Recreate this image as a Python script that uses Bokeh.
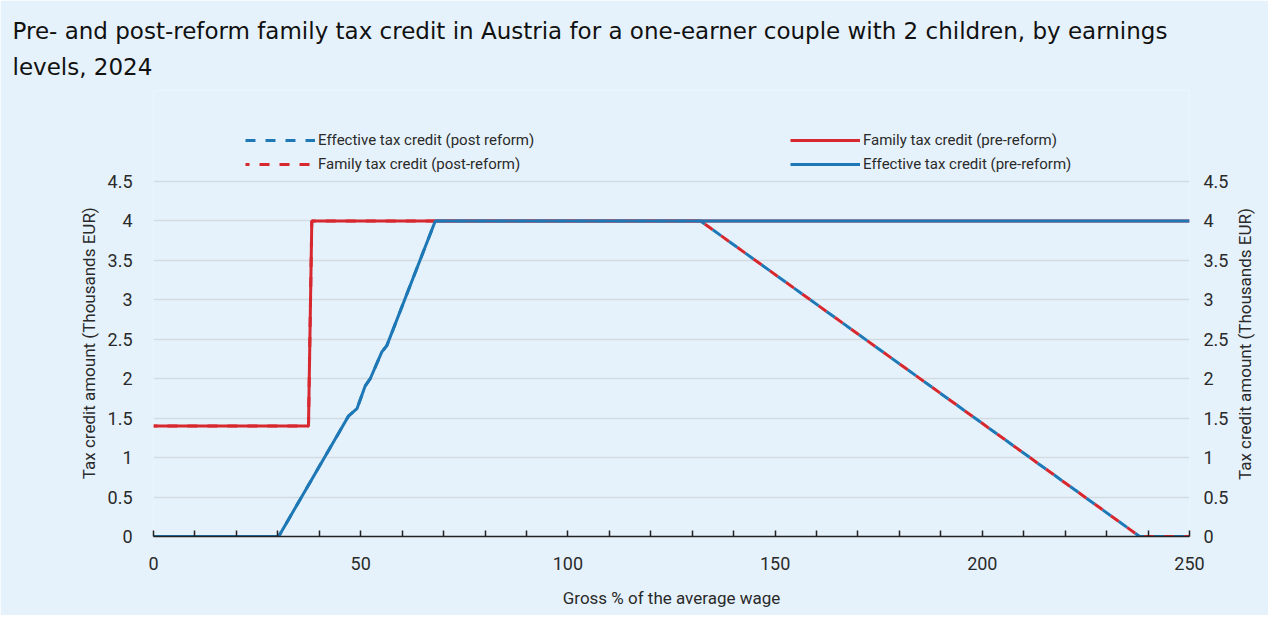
import math
from bokeh.plotting import figure
from bokeh.models import Range1d, LinearAxis, FixedTicker, Legend, LegendItem, Title
from bokeh.embed import file_html
from bokeh.resources import INLINE

title_line1 = "Pre- and post-reform family tax credit in Austria for a one-earner couple with 2 children, by earnings"
title_line2 = "levels, 2024"
x_label = "Gross % of the average wage"
y_label = "Tax credit amount (Thousands EUR)"

x_ticks = [0, 10, 20, 30, 40, 50, 60, 70, 80, 90, 100, 110, 120, 130, 140, 150,
           160, 170, 180, 190, 200, 210, 220, 230, 240, 250]
x_tick_labels = ["0", "", "", "", "", "50", "", "", "", "", "100", "", "", "", "", "150",
                 "", "", "", "", "200", "", "", "", "", "250"]
y_ticks = [0, 0.5, 1, 1.5, 2, 2.5, 3, 3.5, 4, 4.5]
y_tick_labels = ["0", "0.5", "1", "1.5", "2", "2.5", "3", "3.5", "4", "4.5"]

# Family tax credit (pre-reform)
fam_pre_x = [0, 37.4, 38.2, 250]
fam_pre_y = [1.4, 1.4, 4.0, 4.0]
# Effective tax credit (pre-reform)
eff_pre_x = [0, 30.2, 47.1, 49.1, 51.1, 52.3, 55.1, 56.3, 68.0, 250]
eff_pre_y = [0, 0, 1.53, 1.62, 1.91, 2.0, 2.34, 2.42, 4.0, 4.0]
# Family tax credit (post-reform)
fam_post_x = [0, 37.4, 38.2, 132, 238, 250]
fam_post_y = [1.4, 1.4, 4.0, 4.0, 0, 0]
# Effective tax credit (post reform)
eff_post_x = [0, 30.2, 47.1, 49.1, 51.1, 52.3, 55.1, 56.3, 68.0, 132, 238, 250]
eff_post_y = [0, 0, 1.53, 1.62, 1.91, 2.0, 2.34, 2.42, 4.0, 4.0, 0, 0]

BG = "#e6f2fb"
RED = "#d7282f"
BLUE = "#1f78b6"
TXT = "#2a2a2a"
FONT = "Roboto"
TITLE_FONT = "DejaVu Sans"

W, H = 1268, 615
BL, BR, BT, BB = 153, 78, 90, 79
Y_TOP_PX = 181          # screen row where 4.5 sits; space above the grid holds the legend
frame_h = H - BT - BB
px_per_unit = (H - BB - Y_TOP_PX) / 4.5
Y_END = frame_h / px_per_unit

p = figure(width=W, height=H, x_range=Range1d(0, 250), y_range=Range1d(0, Y_END),
           output_backend="svg", toolbar_location=None, title=None,
           min_border_left=BL, min_border_right=BR, min_border_top=BT, min_border_bottom=BB,
           background_fill_color=BG, border_fill_color=BG, outline_line_color=None)

# dash phase alignment: on the shared segment each red dash is followed by a blue one
fw, fh = W - BL - BR, frame_h
def path_len(xs, ys, stop):
    L = 0.0
    for i in range(1, len(xs)):
        if xs[i - 1] >= stop:
            break
        L += math.hypot((xs[i] - xs[i - 1]) * fw / 250, (ys[i] - ys[i - 1]) * fh / Y_END)
    return L
DASH_ON, DASH_OFF = 10, 10
period = DASH_ON + DASH_OFF
Lb = path_len(eff_post_x, eff_post_y, 132)
Lr = path_len(fam_post_x, fam_post_y, 132)
red_off = int(round((Lb - Lr + DASH_ON) % period))

r_fam_post = p.line(fam_post_x, fam_post_y, line_color=RED, line_width=3,
                    line_dash=f"{DASH_ON} {DASH_OFF}", line_dash_offset=red_off)
r_eff_post = p.line(eff_post_x, eff_post_y, line_color=BLUE, line_width=3,
                    line_dash=f"{DASH_ON} {DASH_OFF}", line_dash_offset=0)
r_fam_pre = p.line(fam_pre_x, fam_pre_y, line_color=RED, line_width=3)
r_eff_pre = p.line(eff_pre_x, eff_pre_y, line_color=BLUE, line_width=3)

# x axis
xa = p.xaxis[0]
xa.ticker = FixedTicker(ticks=x_ticks)
xa.major_label_overrides = {t: l for t, l in zip(x_ticks, x_tick_labels)}
xa.minor_tick_line_color = None
xa.major_tick_in = 6
xa.major_tick_out = 0
xa.major_tick_line_color = "#222222"
xa.major_tick_line_width = 1.5
xa.axis_line_color = "#222222"
xa.axis_line_width = 1.5
xa.major_label_standoff = 20
xa.axis_label = x_label
xa.axis_label_standoff = 15
xa.axis_label_text_font = FONT
xa.axis_label_text_font_size = "17px"
xa.axis_label_text_font_style = "normal"
xa.axis_label_text_color = TXT

# y axes (left and right) with tick labels
ya = p.yaxis[0]
ra = LinearAxis()
p.add_layout(ra, "right")
# outer axes that carry the vertical axis titles
LABEL_FS = 17
label_len_px = 16.1 * LABEL_FS            # approximate rendered length of the title
label_mid = 2.45                           # where the titles are centred along the axis
label_start = label_mid - 0.5 * label_len_px / px_per_unit
la2 = LinearAxis(ticker=FixedTicker(ticks=[label_mid]), major_label_overrides={label_mid: y_label})
ra2 = LinearAxis(ticker=FixedTicker(ticks=[label_start]), major_label_overrides={label_start: y_label})
p.add_layout(la2, "left")
p.add_layout(ra2, "right")
for ax in (ya, ra):
    ax.ticker = FixedTicker(ticks=y_ticks)
    ax.major_label_overrides = {t: l for t, l in zip(y_ticks, y_tick_labels)}
    ax.major_label_text_font_size = "18px"
for ax in (ya, ra, la2, ra2):
    ax.axis_line_color = None
    ax.major_tick_line_color = None
    ax.minor_tick_line_color = None
for ax in (la2, ra2):
    ax.major_tick_in = 0
    ax.major_tick_out = 0
    ax.major_label_text_font_size = f"{LABEL_FS}px"
la2.major_label_orientation = "vertical"
ra2.major_label_orientation = math.pi / 2
ya.major_label_standoff = 15
ra.major_label_standoff = 8
la2.major_label_standoff = 5
ra2.major_label_standoff = 14
xa.major_label_text_font_size = "18px"
for ax in (xa, ya, ra, la2, ra2):
    ax.major_label_text_font = FONT
    ax.major_label_text_color = TXT

p.xgrid.grid_line_color = None
p.ygrid.ticker = FixedTicker(ticks=y_ticks[1:])
p.ygrid.grid_line_color = "#d3dbe2"
p.ygrid.grid_line_width = 1.5

legend = Legend(items=[
    LegendItem(label="Effective tax credit (post reform)", renderers=[r_eff_post]),
    LegendItem(label="Family tax credit (post-reform)", renderers=[r_fam_post]),
    LegendItem(label="Family tax credit (pre-reform)", renderers=[r_fam_pre]),
    LegendItem(label="Effective tax credit (pre-reform)", renderers=[r_eff_pre]),
], orientation="vertical", nrows=2, location=(92, 362),
    border_line_color=None, background_fill_alpha=0,
    label_text_font=FONT, label_text_font_size="15px", label_text_color=TXT,
    glyph_width=70, glyph_height=20, label_height=20, label_standoff=3, spacing=4,
    label_width=468, padding=0, margin=0)
p.add_layout(legend, "center")

title = Title(text=title_line1 + "\n" + title_line2, text_font=TITLE_FONT,
              text_font_size="23px", text_font_style="normal", text_color="#111111",
              text_line_height=1.418, offset=-141, standoff=20)
p.add_layout(title, "above")

open("out.html", "w").write(file_html(p, INLINE))
